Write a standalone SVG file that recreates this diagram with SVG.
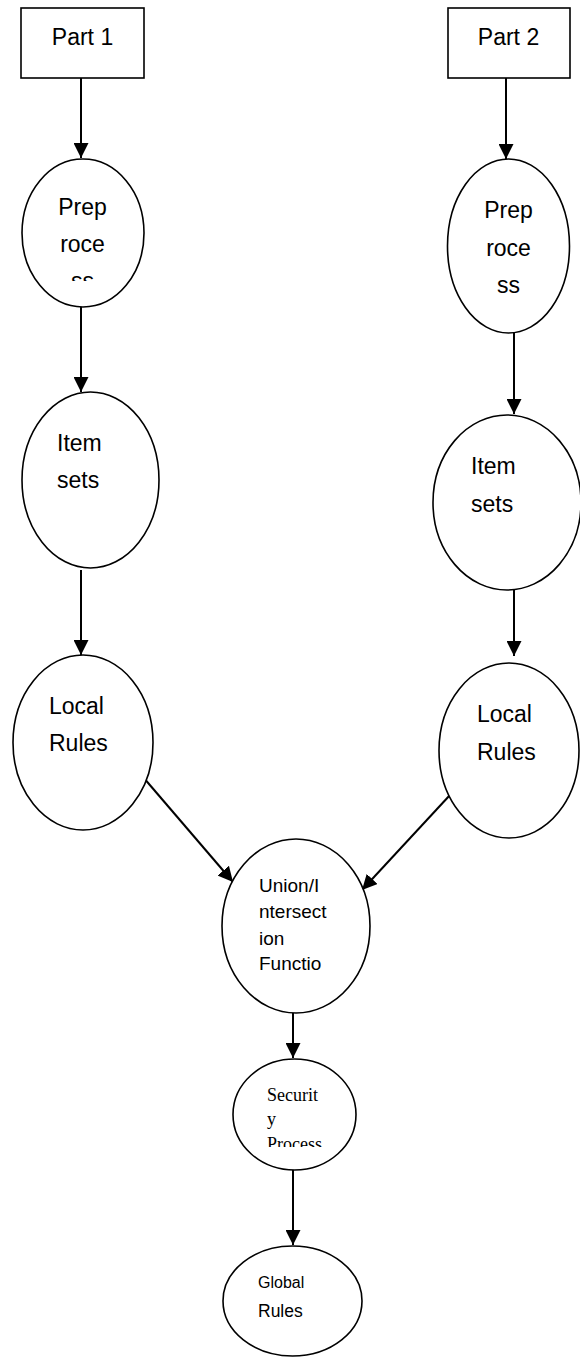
<svg xmlns="http://www.w3.org/2000/svg" width="580" height="1357" viewBox="0 0 580 1357">
<style>
.shape{fill:#fff;stroke:#000;stroke-width:1.6}
.t{font-family:"Liberation Sans",Arial,sans-serif;font-size:23px;fill:#000}
.tm{font-family:"Liberation Sans",Arial,sans-serif;font-size:19px;fill:#000}
.ts{font-family:"Liberation Serif","Times New Roman",serif;font-size:18px;fill:#000}
.c{text-anchor:middle}
.edge{stroke:#000;stroke-width:2;fill:none;marker-end:url(#arr)}
</style>
<defs>
<marker id="arr" markerUnits="userSpaceOnUse" markerWidth="15" markerHeight="15" refX="15" refY="7.5" orient="auto">
<path d="M0,0 L15,7.5 L0,15 Z" fill="#000"/>
</marker>
<clipPath id="clipP1"><rect x="0" y="150" width="200" height="131"/></clipPath>
<clipPath id="clipSec"><rect x="200" y="1050" width="200" height="97"/></clipPath>
</defs>
<rect width="580" height="1357" fill="#fff"/>
<g id="connectors">
<line class="edge" x1="81" y1="78" x2="81" y2="158"/>
<line class="edge" x1="506" y1="78" x2="506" y2="159"/>
<line class="edge" x1="81" y1="307" x2="81" y2="392"/>
<line class="edge" x1="514" y1="333" x2="514" y2="414"/>
<line class="edge" x1="81" y1="570" x2="81" y2="655"/>
<line class="edge" x1="514" y1="590" x2="514" y2="656"/>
<line class="edge" x1="143" y1="777" x2="233" y2="882"/>
<line class="edge" x1="450" y1="795" x2="362" y2="890"/>
<line class="edge" x1="293" y1="1013" x2="293" y2="1058"/>
<line class="edge" x1="293" y1="1170" x2="293" y2="1245"/>
</g>
<g id="part1">
<rect class="shape" x="21" y="8" width="123" height="70"/>
<text class="t c" x="82.5" y="45">Part 1</text>
</g>
<g id="part2">
<rect class="shape" x="448" y="8" width="122" height="70"/>
<text class="t c" x="508.5" y="45">Part 2</text>
</g>
<g id="preprocess1">
<ellipse class="shape" cx="83" cy="233" rx="61" ry="74"/>
<text class="t c" x="82.5" y="215">Prep</text>
<text class="t c" x="82.5" y="252">roce</text>
<text class="t c" x="82.5" y="289" clip-path="url(#clipP1)">ss</text>
</g>
<g id="preprocess2">
<ellipse class="shape" cx="508.5" cy="246" rx="61" ry="87"/>
<text class="t c" x="508.5" y="218">Prep</text>
<text class="t c" x="508.5" y="256">roce</text>
<text class="t c" x="508.5" y="293">ss</text>
</g>
<g id="itemsets1">
<ellipse class="shape" cx="90.5" cy="480" rx="68.5" ry="88"/>
<text class="t" x="57" y="451">Item</text>
<text class="t" x="57" y="488">sets</text>
</g>
<g id="itemsets2">
<ellipse class="shape" cx="507" cy="502.5" rx="74" ry="87.5"/>
<text class="t" x="471" y="474">Item</text>
<text class="t" x="471" y="512">sets</text>
</g>
<g id="localrules1">
<ellipse class="shape" cx="83" cy="742.5" rx="70" ry="87.5"/>
<text class="t" x="49" y="714">Local</text>
<text class="t" x="49" y="751">Rules</text>
</g>
<g id="localrules2">
<ellipse class="shape" cx="509" cy="750.5" rx="70" ry="87.5"/>
<text class="t" x="477" y="722">Local</text>
<text class="t" x="477" y="760">Rules</text>
</g>
<g id="union">
<ellipse class="shape" cx="296" cy="926" rx="74" ry="87"/>
<text class="tm" x="259" y="892">Union/I</text>
<text class="tm" x="259" y="918">ntersect</text>
<text class="tm" x="259" y="945">ion</text>
<text class="tm" x="259" y="970">Functio</text>
</g>
<g id="security">
<ellipse class="shape" cx="294.5" cy="1114.5" rx="61.5" ry="55.5"/>
<text class="ts" x="267" y="1101">Securit</text>
<text class="ts" x="267" y="1125">y</text>
<text class="ts" x="267" y="1150" clip-path="url(#clipSec)">Process</text>
</g>
<g id="global">
<ellipse class="shape" cx="292.5" cy="1301" rx="69.5" ry="55"/>
<text class="tm" x="258" y="1288" style="font-size:16px">Global</text>
<text class="tm" x="258" y="1317" style="font-size:17.5px">Rules</text>
</g>
</svg>
